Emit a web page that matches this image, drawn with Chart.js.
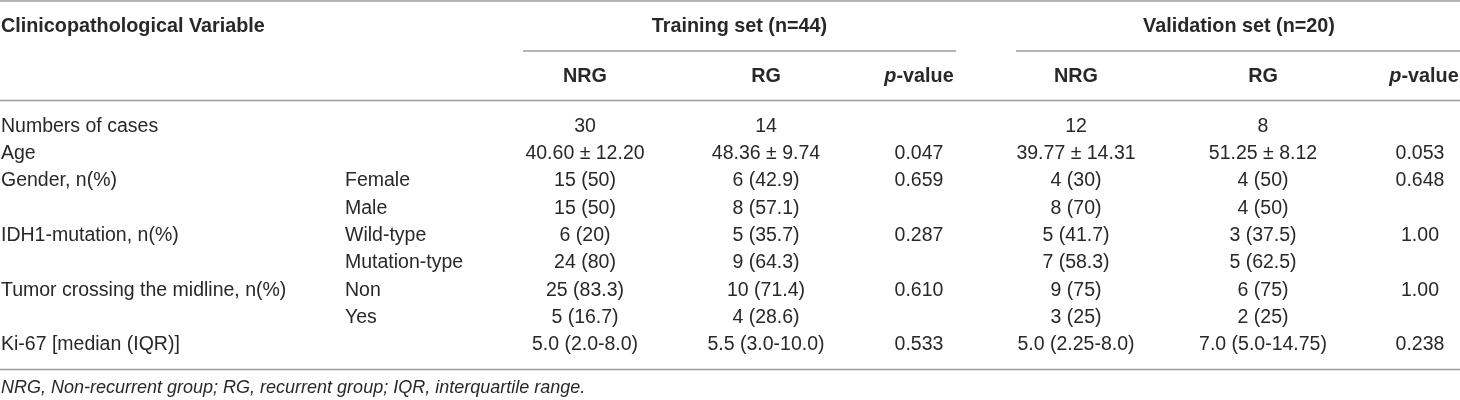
<!DOCTYPE html>
<html><head><meta charset="utf-8">
<script src="https://cdn.jsdelivr.net/npm/chart.js@4.4.1/dist/chart.umd.min.js"></script>
<style>html,body{margin:0;padding:0;background:#fff;overflow:hidden}#wrap{width:1460px;height:400px;position:relative}</style>
</head><body><div id="wrap"><canvas id="c" width="1460" height="400"></canvas></div>
<script>
// ---- table content ----
const headerVariable = "Clinicopathological Variable";
const groupTitles = ["Training set (n=44)", "Validation set (n=20)"];
const subHeaders = ["NRG", "RG", "p-value", "NRG", "RG", "p-value"];
const variables = ["Numbers of cases", "Age", "Gender, n(%)", "", "IDH1-mutation, n(%)", "", "Tumor crossing the midline, n(%)", "", "Ki-67 [median (IQR)]"];
const subgroups = ["", "", "Female", "Male", "Wild-type", "Mutation-type", "Non", "Yes", ""];
const trainNRG = ["30", "40.60 ± 12.20", "15 (50)", "15 (50)", "6 (20)", "24 (80)", "25 (83.3)", "5 (16.7)", "5.0 (2.0-8.0)"];
const trainRG = ["14", "48.36 ± 9.74", "6 (42.9)", "8 (57.1)", "5 (35.7)", "9 (64.3)", "10 (71.4)", "4 (28.6)", "5.5 (3.0-10.0)"];
const trainP = ["", "0.047", "0.659", "", "0.287", "", "0.610", "", "0.533"];
const validNRG = ["12", "39.77 ± 14.31", "4 (30)", "8 (70)", "5 (41.7)", "7 (58.3)", "9 (75)", "3 (25)", "5.0 (2.25-8.0)"];
const validRG = ["8", "51.25 ± 8.12", "4 (50)", "4 (50)", "3 (37.5)", "5 (62.5)", "6 (75)", "2 (25)", "7.0 (5.0-14.75)"];
const validP = ["", "0.053", "0.648", "", "1.00", "", "1.00", "", "0.238"];
const footnote = "NRG, Non-recurrent group; RG, recurrent group; IQR, interquartile range.";

// ---- layout (scale units = pixels) ----
const FONT = '"Liberation Sans", Arial, Helvetica, sans-serif';
const SIZE = 19.5;
const BSIZE = 19.8;
const TEXT = '#2a2728';
const RULE = '#9c9c9c';
const colX = { variable: 1, sub: 345, tNRG: 585, tRG: 766, tP: 919, vNRG: 1076, vRG: 1263, vP: 1420 };
const headP = [919, 1424];
const groupSpan = [[523, 956], [1016, 1460]];
const rowY0 = 126.5, rowStep = 27.3;
const yHead = 27, ySub = 77, yGroupRule = 51, yTopRule = 1, yMidRule = 100.5, yBotRule = 369.5, yNote = 388;

const tablePlugin = {
  id: 'tablePlugin',
  afterDraw(chart) {
    const ctx = chart.ctx, xs = chart.scales.x, ys = chart.scales.y;
    const X = v => xs.getPixelForValue(v), Y = v => ys.getPixelForValue(v);
    ctx.save();
    // rules
    ctx.strokeStyle = RULE; ctx.lineWidth = 1.6;
    const hline = (x0, x1, y) => { ctx.beginPath(); ctx.moveTo(X(x0), Y(y)); ctx.lineTo(X(x1), Y(y)); ctx.stroke(); };
    hline(0, 1460, yTopRule);
    hline(0, 1460, yMidRule);
    hline(0, 1460, yBotRule);
    groupSpan.forEach(s => hline(s[0], s[1], yGroupRule));

    ctx.fillStyle = TEXT; ctx.textBaseline = 'middle';
    const txt = (s, x, y, align, font) => { if (!s) return; ctx.font = font; ctx.textAlign = align; ctx.fillText(s, X(x), Y(y)); };
    const bold = 'bold ' + BSIZE + 'px ' + FONT, reg = SIZE + 'px ' + FONT;
    const boldIt = 'italic bold ' + BSIZE + 'px ' + FONT;
    // header
    txt(headerVariable, colX.variable, yHead, 'left', bold);
    txt(groupTitles[0], (groupSpan[0][0] + groupSpan[0][1]) / 2, yHead, 'center', bold);
    txt(groupTitles[1], (groupSpan[1][0] + groupSpan[1][1]) / 2 + 1, yHead, 'center', bold);
    const subX = [colX.tNRG, colX.tRG, headP[0], colX.vNRG, colX.vRG, headP[1]];
    subHeaders.forEach((h, i) => {
      if (h.startsWith('p-')) {
        ctx.font = boldIt;
        const w1 = ctx.measureText('p').width;
        ctx.font = bold;
        const w2 = ctx.measureText(h.slice(1)).width;
        const left = X(subX[i]) - (w1 + w2) / 2;
        ctx.textAlign = 'left';
        ctx.font = boldIt;
        ctx.fillText('p', left, Y(ySub));
        ctx.font = bold;
        ctx.fillText(h.slice(1), left + w1, Y(ySub));
      } else {
        txt(h, subX[i], ySub, 'center', bold);
      }
    });
    // body
    variables.forEach((v, r) => {
      const y = rowY0 + r * rowStep;
      txt(v, colX.variable, y, 'left', reg);
      txt(subgroups[r], colX.sub, y, 'left', reg);
      txt(trainNRG[r], colX.tNRG, y, 'center', reg);
      txt(trainRG[r], colX.tRG, y, 'center', reg);
      txt(trainP[r], colX.tP, y, 'center', reg);
      txt(validNRG[r], colX.vNRG, y, 'center', reg);
      txt(validRG[r], colX.vRG, y, 'center', reg);
      txt(validP[r], colX.vP, y, 'center', reg);
    });
    txt(footnote, 1, yNote, 'left', 'italic 18px ' + FONT);
    ctx.restore();
  }
};

new Chart(document.getElementById('c'), {
  type: 'scatter',
  data: { datasets: [{ data: [], pointRadius: 0 }] },
  options: {
    responsive: false,
    animation: false,
    devicePixelRatio: 1,
    layout: { padding: 0 },
    plugins: { legend: { display: false }, tooltip: { enabled: false } },
    scales: {
      x: { type: 'linear', min: 0, max: 1460, display: false },
      y: { type: 'linear', min: 0, max: 400, reverse: true, display: false }
    }
  },
  plugins: [tablePlugin]
});
</script>
</body></html>
